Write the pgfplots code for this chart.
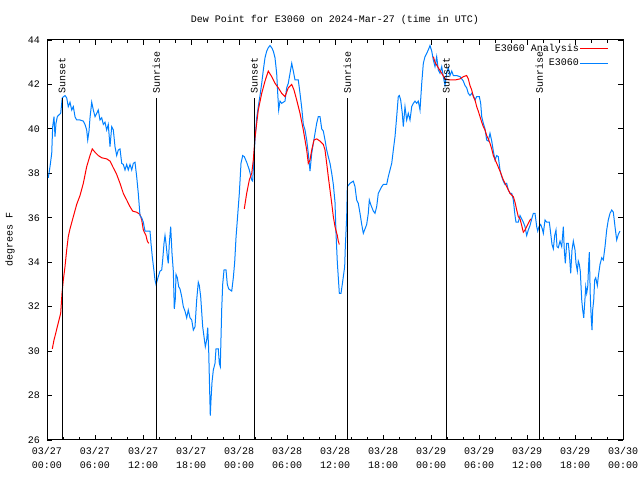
\documentclass[border=0pt]{standalone}
\usepackage{fontspec}
\setmainfont{Liberation Mono}
\usepackage{pgfplots}
\pgfplotsset{compat=1.18}
\definecolor{eblue}{RGB}{0,128,255}
\definecolor{ered}{RGB}{255,0,0}
\begin{document}
\fontsize{10bp}{14bp}\selectfont
\begin{tikzpicture}[x=1bp,y=1bp]
\path[use as bounding box] (0,0) rectangle (640,480);
\node[inner sep=0] at (335,460) {Dew Point for E3060 on 2024-Mar-27 (time in UTC)};
\node[inner sep=0,rotate=90] at (10,240) {degrees F};
\begin{axis}[
  at={(47bp,40bp)}, anchor=south west,
  scale only axis, width=576bp, height=400bp,
  xmin=0, xmax=72, ymin=26, ymax=44,
  axis line style={black, line width=1bp},
  xtick={0,6,...,72},
  xticklabels={{03/27\\00:00},{03/27\\06:00},{03/27\\12:00},{03/27\\18:00},{03/28\\00:00},{03/28\\06:00},{03/28\\12:00},{03/28\\18:00},{03/29\\00:00},{03/29\\06:00},{03/29\\12:00},{03/29\\18:00},{03/30\\00:00}},
  minor x tick num=2,
  ytick={26,28,...,44},
  tick align=inside,
  major tick length=5bp, minor tick length=3bp,
  tick style={black, line width=0.8bp},
  xticklabel style={align=center, inner sep=0pt, yshift=-7bp, font=\fontsize{10bp}{14bp}\selectfont},
  yticklabel style={inner sep=0pt, xshift=-7bp},
  /pgf/number format/assume math mode=true,
  legend plot pos=right,
  legend cell align=right,
  legend style={draw=none, fill=none, at={(axis description cs:0.9757,0.9925)}, anchor=north east, inner sep=0pt, row sep=4bp, nodes={inner sep=1bp}},
  legend image code/.code={\draw[#1] (0bp,0bp) -- (28bp,0bp);},
]
% red analysis
\addplot[ered, line width=1bp] coordinates {
(0.66,30.1)(0.875,30.5)(1.09,30.8)(1.29,31.1)(1.5,31.4)(1.71,31.7)(1.875,32.6)(2.04,33.2)(2.25,33.8)(2.46,34.55)(2.66,35.15)(2.875,35.5)(3.29,36.05)(3.71,36.6)(4.125,37.0)(4.54,37.55)(4.96,38.3)(5.375,38.8)(5.66,39.1)(6.0,38.95)(6.41,38.8)(6.84,38.7)(7.46,38.65)(7.875,38.55)(8.29,38.25)(8.71,37.95)(9.125,37.55)(9.54,37.1)(9.96,36.8)(10.375,36.5)(10.71,36.3)(11.21,36.25)(11.625,36.15)(11.84,35.9)(12.04,35.45)(12.375,35.2)(12.54,34.95)(12.71,34.85)
};
\addlegendentry{E3060 Analysis}
\addplot[eblue, line width=1bp] coordinates {
(0.16,37.8)(0.375,38.3)(0.59,38.9)(0.71,40.1)(0.875,40.55)(1.0,39.65)(1.125,40.25)(1.29,40.55)(1.41,40.6)(1.71,40.7)(1.91,41.4)(2.25,41.5)(2.46,41.4)(2.66,41.0)(2.875,41.2)(3.09,40.85)(3.29,41.0)(3.5,40.55)(3.71,40.4)(4.125,40.4)(4.54,40.35)(4.75,40.2)(4.96,39.95)(5.09,39.5)(5.25,39.9)(5.375,40.5)(5.59,41.2)(5.79,40.85)(6.0,40.55)(6.21,40.7)(6.41,40.85)(6.625,40.4)(6.84,40.5)(7.04,40.2)(7.25,40.3)(7.46,39.95)(7.66,40.2)(7.875,39.2)(8.09,40.1)(8.29,39.95)(8.5,39.2)(8.71,38.8)(8.91,39.05)(9.125,39.1)(9.34,38.45)(9.54,38.4)(9.75,38.15)(9.96,38.4)(10.16,38.15)(10.375,38.4)(10.59,38.15)(10.79,38.45)(11.0,38.5)(11.21,37.85)(11.41,37.1)(11.625,36.1)(11.84,36.0)(12.04,35.8)(12.25,35.4)(12.46,35.4)(12.875,35.4)(13.0,34.85)(13.16,34.25)(13.375,33.6)(13.5,33.2)(13.625,33.0)(13.71,33.1)(13.91,33.35)(14.125,33.6)(14.34,33.65)(14.46,34.1)(14.625,34.85)(14.75,35.2)(14.875,34.85)(15.04,34.25)(15.16,33.95)(15.29,34.85)(15.46,35.6)(15.625,34.4)(15.79,33.6)(15.91,31.9)(16.04,32.35)(16.125,33.45)(16.29,33.3)(16.46,32.9)(16.625,32.8)(16.84,32.45)(17.04,32.0)(17.25,31.8)(17.46,31.5)(17.66,31.85)(17.875,31.5)(18.09,31.4)(18.29,30.95)(18.5,31.1)(18.71,32.3)(18.91,33.1)(19.04,32.95)(19.21,32.45)(19.46,31.1)(19.625,30.65)(19.79,30.2)(19.96,30.5)(20.09,31.05)(20.21,30.05)(20.34,28.1)(20.41,27.1)(20.5,27.8)(20.625,28.6)(20.79,29.15)(21.0,29.45)(21.125,30.1)(21.41,30.1)(21.54,29.45)(21.66,29.3)(21.84,31.9)(21.96,33.0)(22.125,33.65)(22.375,33.65)(22.54,33.0)(22.71,32.8)(23.09,32.7)(23.29,33.3)(23.46,34.0)(23.625,35.1)(23.79,35.9)(24.04,37.1)(24.25,38.45)(24.46,38.8)(24.66,38.75)(24.96,38.5)(25.29,38.15)(25.59,37.7)(25.71,37.65)(25.79,38.2)(26.0,39.5)(26.21,40.5)(26.41,41.0)(26.625,41.5)(26.84,42.05)(27.04,42.65)(27.25,43.2)(27.46,43.5)(27.66,43.65)(27.875,43.75)(28.09,43.65)(28.29,43.5)(28.5,43.2)(28.71,42.5)(28.84,41.6)(28.96,40.85)(29.125,41.25)(29.34,41.15)(29.75,41.25)(29.96,41.85)(30.16,42.05)(30.375,42.5)(30.59,42.95)(30.79,42.6)(31.0,42.2)(31.41,42.2)(31.625,41.6)(31.84,40.95)(32.04,40.2)(32.25,39.95)(32.46,39.5)(32.66,38.9)(32.875,38.1)(33.09,38.9)(33.29,39.35)(33.5,39.8)(33.71,40.25)(33.91,40.55)(34.125,40.55)(34.34,40.0)(34.54,39.9)(34.75,39.5)(34.96,39.05)(35.16,38.75)(35.375,38.45)(35.59,38.0)(35.79,37.5)(36.0,36.7)(36.125,35.3)(36.29,34.0)(36.46,33.05)(36.54,32.6)(36.75,32.6)(36.91,33.0)(37.04,33.35)(37.21,33.8)(37.29,34.7)(37.46,36.05)(37.54,37.4)(37.875,37.55)(38.29,37.65)(38.5,37.4)(38.71,36.8)(38.91,36.65)(39.125,36.2)(39.34,35.7)(39.54,35.3)(39.75,35.5)(39.96,35.7)(40.16,36.2)(40.29,36.8)(40.46,36.6)(40.79,36.3)(41.0,36.2)(41.21,36.5)(41.41,37.1)(41.625,37.25)(41.84,37.4)(42.04,37.5)(42.46,37.5)(42.66,37.85)(42.875,38.15)(43.09,38.45)(43.29,39.05)(43.5,39.65)(43.71,40.55)(43.91,41.45)(44.04,41.5)(44.21,41.3)(44.41,40.7)(44.54,40.1)(44.75,41.0)(44.96,40.4)(45.16,40.7)(45.375,40.4)(45.59,41.0)(45.79,41.15)(46.0,41.25)(46.21,41.15)(46.41,41.25)(46.625,40.85)(46.84,42.05)(47.04,42.95)(47.25,43.25)(47.46,43.4)(47.66,43.55)(47.875,43.75)(48.09,43.5)(48.29,43.1)(48.5,42.8)(48.71,43.25)(48.91,42.65)(49.125,42.5)(49.34,42.8)(49.54,42.35)(49.75,41.95)(49.96,42.5)(50.16,42.75)(50.375,42.4)(50.59,42.6)(50.79,42.4)(51.21,42.4)(51.625,42.35)(51.84,42.25)(52.04,42.15)(52.25,41.95)(52.46,41.85)(52.66,41.6)(52.875,41.5)(53.09,41.6)(53.29,41.5)(53.5,41.3)(53.71,41.45)(54.04,41.45)(54.21,41.15)(54.34,40.55)(54.54,40.25)(54.75,40.0)(54.96,39.5)(55.16,39.45)(55.375,39.8)(55.59,39.45)(55.79,39.0)(56.0,38.6)(56.21,38.8)(56.41,38.75)(56.625,38.15)(56.84,37.85)(57.04,37.65)(57.25,37.5)(57.46,37.55)(57.66,37.25)(57.875,37.1)(58.09,37.1)(58.29,36.8)(58.5,36.1)(58.625,35.8)(58.91,35.8)(59.125,36.1)(59.34,35.95)(59.54,35.8)(59.75,35.6)(59.96,35.2)(60.16,35.45)(60.375,35.65)(60.59,35.95)(60.79,36.2)(61.0,36.2)(61.21,35.6)(61.34,35.4)(61.5,35.6)(61.71,35.7)(61.91,35.5)(62.04,35.3)(62.25,35.9)(62.46,35.8)(62.79,35.8)(62.96,35.3)(63.125,34.8)(63.29,34.6)(63.46,35.2)(63.625,35.45)(63.75,34.7)(63.91,34.65)(64.125,34.95)(64.34,34.7)(64.54,35.6)(64.66,34.55)(64.79,33.95)(64.96,34.85)(65.16,34.85)(65.29,34.4)(65.46,33.5)(65.625,34.55)(65.79,34.95)(66.0,34.55)(66.125,33.95)(66.29,33.6)(66.41,34.05)(66.54,33.9)(66.66,33.6)(66.84,32.3)(66.96,31.85)(67.09,31.5)(67.21,32.15)(67.34,32.9)(67.46,32.6)(67.59,32.9)(67.71,33.95)(67.79,34.45)(67.91,32.45)(68.04,31.4)(68.125,30.95)(68.21,31.85)(68.34,32.3)(68.46,33.2)(68.59,33.3)(68.79,32.95)(68.91,33.35)(69.125,33.9)(69.34,34.2)(69.54,34.1)(69.75,34.7)(69.96,35.45)(70.16,35.9)(70.375,36.2)(70.59,36.35)(70.79,36.25)(71.0,35.6)(71.21,35.0)(71.41,35.25)(71.625,35.4)
};
\addlegendentry{E3060}
\addplot[ered, line width=1bp, forget plot] coordinates {
(24.66,36.4)(24.96,37.1)(25.29,37.7)(25.59,38.0)(25.79,38.6)(26.0,39.6)(26.21,40.25)(26.41,40.85)(26.84,41.6)(27.25,42.15)(27.66,42.6)(28.09,42.35)(28.5,42.05)(28.91,41.85)(29.34,41.6)(29.75,41.45)(30.16,41.85)(30.59,42.0)(30.875,41.75)(31.21,41.3)(31.625,40.7)(32.04,39.95)(32.46,39.05)(32.66,38.45)(32.875,38.6)(33.09,39.05)(33.375,39.5)(33.71,39.55)(34.125,39.45)(34.54,39.3)(34.75,39.05)(34.96,38.45)(35.16,37.85)(35.375,37.25)(35.59,36.65)(35.79,36.05)(36.0,35.6)(36.29,35.2)(36.41,34.95)(36.54,34.8)
};
\addplot[ered, line width=1bp, forget plot] coordinates {
(48.29,43.25)(48.5,43.0)(48.91,42.75)(49.34,42.5)(49.75,42.25)(50.375,42.2)(51.0,42.2)(51.625,42.25)(52.04,42.35)(52.46,42.4)(52.66,42.25)(52.875,41.95)(53.09,41.75)(53.29,41.45)(53.5,41.3)(53.71,41.0)(53.91,40.8)(54.125,40.55)(54.34,40.3)(54.54,40.1)(54.75,39.95)(54.96,39.7)(55.16,39.55)(55.375,39.35)(55.59,39.1)(55.79,38.8)(56.21,38.45)(56.625,38.1)(57.04,37.7)(57.46,37.4)(57.875,37.1)(58.29,36.95)(58.5,36.7)(58.71,36.35)(58.91,36.05)(59.125,35.95)(59.34,35.65)(59.54,35.35)(59.75,35.45)(59.96,35.6)(60.16,35.75)(60.46,35.95)
};
% sunrise / sunset lines
\addplot[black, line width=1bp, forget plot] coordinates {(1.9,26)(1.9,41.4)};
\addplot[black, line width=1bp, forget plot] coordinates {(13.65,26)(13.65,41.4)};
\addplot[black, line width=1bp, forget plot] coordinates {(25.9,26)(25.9,41.4)};
\addplot[black, line width=1bp, forget plot] coordinates {(37.53,26)(37.53,41.4)};
\addplot[black, line width=1bp, forget plot] coordinates {(49.9,26)(49.9,41.4)};
\addplot[black, line width=1bp, forget plot] coordinates {(61.53,26)(61.53,41.4)};
\node[rotate=90, anchor=west, inner sep=0] at (axis cs:1.9,41.6) {Sunset};
\node[rotate=90, anchor=west, inner sep=0] at (axis cs:13.65,41.6) {Sunrise};
\node[rotate=90, anchor=west, inner sep=0] at (axis cs:25.9,41.6) {Sunset};
\node[rotate=90, anchor=west, inner sep=0] at (axis cs:37.53,41.6) {Sunrise};
\node[rotate=90, anchor=west, inner sep=0] at (axis cs:49.9,41.6) {Sunset};
\node[rotate=90, anchor=west, inner sep=0] at (axis cs:61.53,41.6) {Sunrise};
\end{axis}
\end{tikzpicture}
\end{document}
